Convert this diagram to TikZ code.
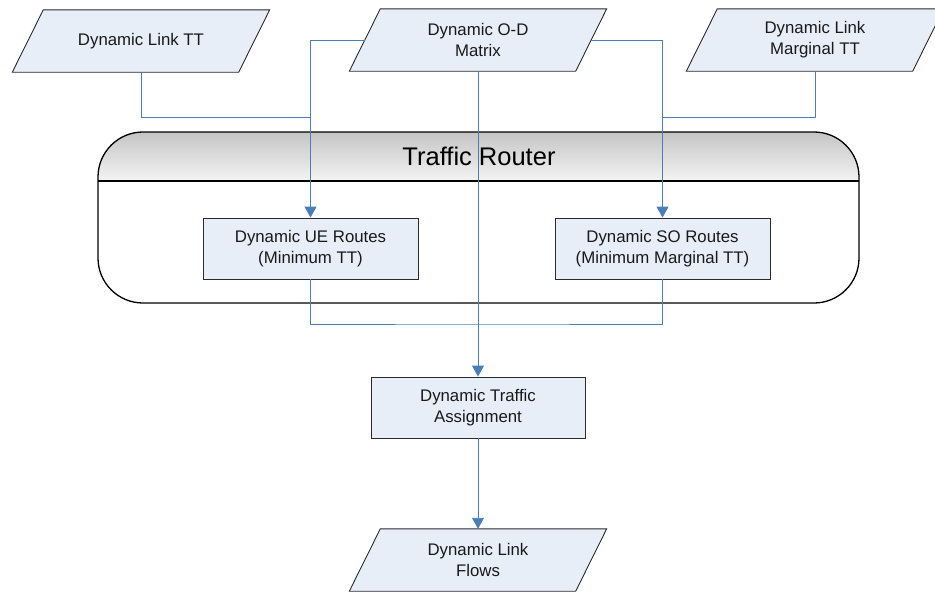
\documentclass[tikz,border=0pt]{standalone}
\usepackage{fontspec}
\setmainfont{Liberation Sans}
\usetikzlibrary{arrows.meta,calc,backgrounds}
\definecolor{boxfill}{HTML}{E8EEF8}
\definecolor{conn}{HTML}{4A7EBB}
\definecolor{hdtop}{HTML}{C4C4C4}
\definecolor{hdbot}{HTML}{F4F4F4}
\definecolor{edge}{HTML}{2A2A2A}
\tikzset{
  txt/.style={font=\fontsize{16.8}{21}\selectfont, align=center, text=black!90, inner sep=0pt},
  iobox/.style={txt, minimum width=226pt, minimum height=62pt},
  procbox/.style={txt, draw=edge, fill=boxfill, line width=0.9pt, minimum width=215pt, minimum height=61pt},
  paraline/.style={draw=edge, fill=boxfill, line width=0.9pt},
  conn/.style={draw=conn, line width=0.9pt},
  arr/.style={conn, -{Triangle[width=12pt,length=11pt]}},
}
\begin{document}
\begin{tikzpicture}[x=1pt,y=-1pt]
\useasboundingbox (0,0) rectangle (935,592);
\clip (0,0) rectangle (935,592);
\begin{scope}[on background layer]
  \fill[white] (0,0) rectangle (935,592);
\end{scope}

% Traffic router container
\begin{scope}
  \clip[rounded corners=45pt] (98,132) rectangle (859,303);
  \fill[top color=hdtop, bottom color=hdbot] (98,132) rectangle (859,181);
\end{scope}
\draw[black, line width=1.3pt, rounded corners=45pt] (98,132) rectangle (859,303);
\draw[black, line width=1.3pt] (98,181) -- (859,181);
\node[font=\fontsize{25.5}{30}\selectfont, inner sep=0pt] (router) at (479,156) {Traffic Router};

% input / output nodes (parallelograms)
\node[iobox] (lt) at (141,41) {Dynamic Link TT};
\node[iobox] (od) at (478,40) {Dynamic O-D\\Matrix};
\node[iobox] (mt) at (815,40) {Dynamic Link\\Marginal TT};
\node[iobox] (fl) at (478,560) {Dynamic Link\\Flows};
\begin{scope}[on background layer]
  \foreach \n in {lt,od,mt,fl}{
    \draw[paraline] ($(\n.north west)+(15.5,0)$) -- ($(\n.north east)+(15.5,0)$)
      -- ($(\n.south east)+(-15.5,0)$) -- ($(\n.south west)+(-15.5,0)$) -- cycle;
  }
\end{scope}

% process boxes
\node[procbox] (ue) at (310.5,248.5) {Dynamic UE Routes\\(Minimum TT)};
\node[procbox] (so) at (662.5,248.5) {Dynamic SO Routes\\(Minimum Marginal TT)};
\node[procbox, minimum width=214pt] (dta) at (478,407.5) {Dynamic Traffic\\Assignment};

% connectors
\coordinate (jl) at (310.5,117);
\coordinate (jr) at (662.5,117);
\coordinate (jb) at (478,324);
\draw[arr] (od.west) -| (ue.north);
\draw[conn] (lt.south) |- (jl);
\draw[arr] (od.east) -| (so.north);
\draw[conn] (mt.south) |- (jr);
\draw[arr] (od.south) -- (dta.north);
\draw[conn] (ue.south) |- (jb) -| (so.south);
\draw[arr] (dta.south) -- (fl.north);
\end{tikzpicture}
\end{document}
